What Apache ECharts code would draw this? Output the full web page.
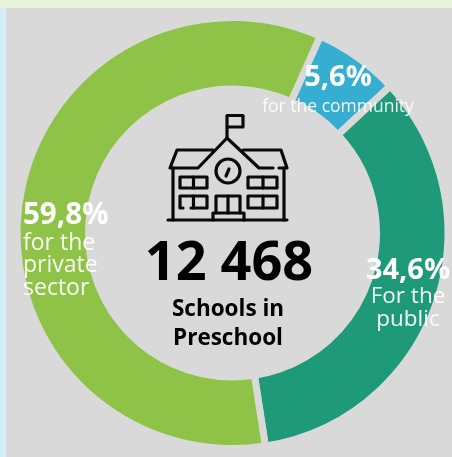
<!DOCTYPE html>
<html><head><meta charset="utf-8">
<style>html,body{margin:0;padding:0;background:#d9d9d9}#c{width:452px;height:457px}</style>
<script src="https://cdn.jsdelivr.net/npm/echarts@6/dist/echarts.min.js"></script>
</head><body><div id="c"></div>
<script>
const categories = ['for the community', 'For the public', 'for the private sector'];
// Arc sizes as measured on the picture (the printed 5,6% slice is drawn a little wider than its label).
const values = [6.4, 34.5, 59.1];
const valueLabels = ['5,6%', '34,6%', '59,8%'];
const colors = ['#36aed1', '#1f9a78', '#8fc348'];
const totalLabel = '12 468';
const centerLines = ['Schools in', 'Preschool'];
const communityLines = ['for the community'];
const publicLines = ['For the', 'public'];
const privateLines = ['for the', 'private', 'sector'];
const BG = '#d9d9d9';
const FONT = '"Open Sans", sans-serif';

function txt(s, x, y, size, weight, fill, align) {
  return {type: 'text', z: 20, x: x, y: y, style: {text: s, fontFamily: FONT, fontSize: size, fontWeight: weight,
    fill: fill, align: align || 'center', verticalAlign: 'middle'}};
}
const iconLines = [
  [[227,137],[227,115.5],[243,115.5],[243,127],[227,127]],
  [[213,150],[177,150],[170,168],[198,168],[227,138],[259,168],[273,168]],
  [[243,150],[281,150],[287,168],[279,168]],
  [[173,168],[173,220]], [[284,168],[284,220]], [[168,220],[287,220]],
  [[180,177],[207,177],[207,188],[180,188],[180,177]], [[193.5,177],[193.5,188]],
  [[183,208],[180,208],[180,196],[207,196],[207,208],[191,208]], [[193.5,196],[193.5,208]],
  [[248,177],[277,177],[277,188],[248,188],[248,177]], [[263,177],[263,188]],
  [[248,196],[277,196],[277,208],[248,208],[248,196]], [[263,196],[263,208]],
  [[216,213],[216,196],[240,196],[240,213]], [[228,196],[228,213]],
  [[213,220],[213,213],[244,213],[244,220]],
  [[226,176],[229,169]]
];
const graphics = [
  {type: 'rect', z: 1, shape: {x: 0, y: 0, width: 452, height: 8}, style: {fill: '#e8f2d8'}},
  {type: 'rect', z: 1, shape: {x: 0, y: 8, width: 6, height: 449}, style: {fill: '#d3eef5'}},
  {type: 'circle', z: 20, shape: {cx: 228, cy: 171, r: 12}, style: {fill: 'none', stroke: '#0a0a0a', lineWidth: 3.2}}
];
iconLines.forEach(p => graphics.push({type: 'polyline', z: 20, shape: {points: p},
  style: {fill: 'none', stroke: '#0a0a0a', lineWidth: 3.2, lineJoin: 'round', lineCap: 'round'}}));
graphics.push(txt(totalLabel, 229, 265, 54, 700, '#000'));
centerLines.forEach((s, i) => graphics.push(txt(s, 228, 310 + i * 29, 22.5, 700, '#000')));
graphics.push(txt(valueLabels[0], 338, 78, 29, 700, '#fff'));
communityLines.forEach((s, i) => graphics.push(txt(s, 338, 107 + i * 22, 17.5, 400, 'rgba(255,255,255,0.9)')));
graphics.push(txt(valueLabels[1], 408, 271, 29, 700, '#fff'));
publicLines.forEach((s, i) => graphics.push(txt(s, 408, 297 + i * 23, 22.5, 400, 'rgba(255,255,255,0.95)')));
graphics.push(txt(valueLabels[2], 23, 216, 29.5, 700, '#fff', 'left'));
privateLines.forEach((s, i) => graphics.push(txt(s, 23, 243 + i * 22.5, 23, 400, 'rgba(255,255,255,0.95)', 'left')));

const chart = echarts.init(document.getElementById('c'), null, {renderer: 'canvas'});
chart.setOption({
  animation: false,
  backgroundColor: BG,
  graphic: graphics,
  series: [{
    type: 'pie',
    center: [232.5, 233],
    radius: [144, 215.5],
    startAngle: 66,
    clockwise: true,
    silent: true,
    label: {show: false},
    labelLine: {show: false},
    itemStyle: {borderColor: BG, borderWidth: 7},
    data: categories.map((c, i) => ({name: c, value: values[i], itemStyle: {color: colors[i]}}))
  }]
});
</script></body></html>
